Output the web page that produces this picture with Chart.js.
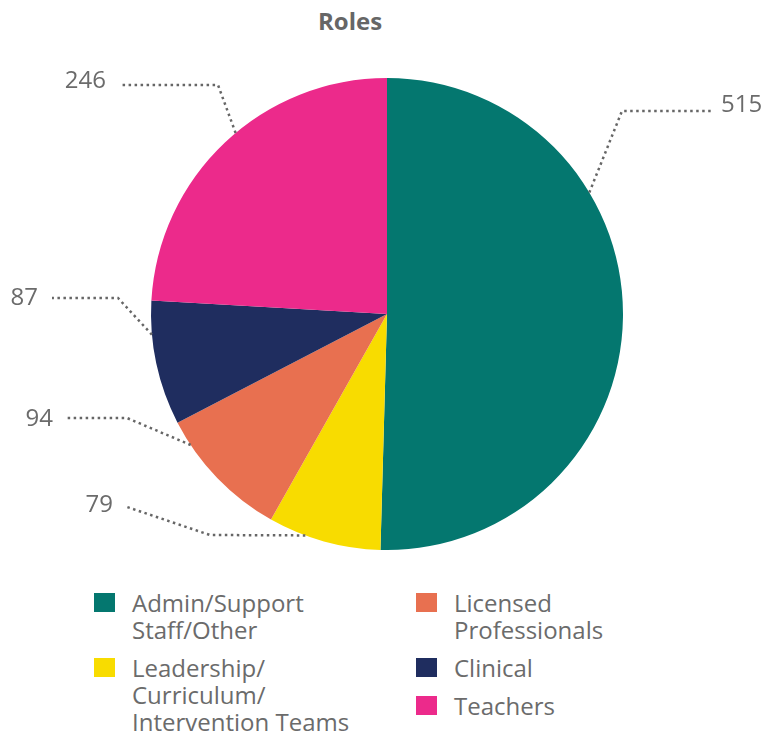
<!DOCTYPE html>
<html>
<head>
<meta charset="utf-8">
<script src="https://cdn.jsdelivr.net/npm/chart.js@4/dist/chart.umd.min.js"></script>
<style>
  body { margin: 0; background: #fff; font-family: 'Open Sans', sans-serif; color: #6b6b6b; }
  #wrap { position: relative; width: 762px; height: 740px; overflow: hidden; }
  #title { position: absolute; left: 0; top: 6px; width: 700px; text-align: center;
           font: bold 24px/30px 'Open Sans', sans-serif; color: #666; }
  #chartBox { position: absolute; left: 0; top: 0; width: 762px; height: 560px; }
  .col { position: absolute; top: 593px; display: flex; flex-direction: column; gap: 15px; }
  .item { display: flex; align-items: flex-start; }
  .box { width: 21px; height: 19px; flex: none; }
  .txt { margin-left: 17px; margin-top: -4px; font-size: 24px; line-height: 27px; white-space: pre-line; }
</style>
</head>
<body>
<div id="wrap">
  <div id="title">Roles</div>
  <div id="chartBox"><canvas id="rolesChart"></canvas></div>
  <div id="legend"></div>
</div>
<script>
const categories = ['Admin/Support\nStaff/Other', 'Leadership/\nCurriculum/\nIntervention Teams',
                    'Licensed\nProfessionals', 'Clinical', 'Teachers'];
const counts = [515, 79, 94, 87, 246];
const sliceColors = ['#04776F', '#F8DC00', '#E87050', '#1F2D5F', '#EC2A8B'];

// leader line layout per slice: where on the arc it starts, elbow and end offsets from centre
const leaderLayout = [
    { frac: 0.325, elbow: [235, -203], end: [327, -203], dy: -6 },
    { frac: 0.67, elbow: [-177, 221], end: [-260, 193], dy: -2 },
    { frac: 0.81, elbow: [-260, 104], end: [-320, 104], dy: 1 },
    { frac: 0.73, elbow: [-269, -16], end: [-335, -16], dy: 0 },
    { frac: 0.54, elbow: [-169, -229], end: [-267, -229], dy: -4 }
];

const leaderPlugin = {
    id: 'leaders',
    afterDatasetsDraw(chart, args, opts) {
        const ctx = chart.ctx;
        const meta = chart.getDatasetMeta(0);
        meta.data.forEach((arc, i) => {
            const lay = opts.layout[i];
            const p = arc.getProps(['x', 'y', 'startAngle', 'endAngle', 'outerRadius'], true);
            const a = p.startAngle + lay.frac * (p.endAngle - p.startAngle);
            const ax = p.x + p.outerRadius * Math.cos(a);
            const ay = p.y + p.outerRadius * Math.sin(a);
            const bx = p.x + lay.elbow[0], by = p.y + lay.elbow[1];
            const ex = p.x + lay.end[0], ey = p.y + lay.end[1];
            ctx.save();
            ctx.strokeStyle = '#666';
            ctx.lineWidth = 2.5;
            ctx.setLineDash([2.5, 3.5]);
            ctx.beginPath();
            ctx.moveTo(ax, ay);
            ctx.lineTo(bx, by);
            ctx.lineTo(ex, ey);
            ctx.stroke();
            ctx.setLineDash([]);
            ctx.font = '24px "Open Sans"';
            ctx.fillStyle = '#6b6b6b';
            ctx.textBaseline = 'middle';
            const onLeft = ex < bx;
            ctx.textAlign = onLeft ? 'right' : 'left';
            ctx.fillText(String(chart.data.datasets[0].data[i]), ex + (onLeft ? -14 : 7), ey + lay.dy);
            ctx.restore();
        });
    }
};

const chart = new Chart(document.getElementById('rolesChart'), {
    type: 'pie',
    data: {
        labels: categories,
        datasets: [{
            data: counts,
            backgroundColor: sliceColors,
            borderWidth: 0
        }]
    },
    options: {
        responsive: true,
        maintainAspectRatio: false,
        animation: false,
        layout: { padding: { top: 78, bottom: 10, left: 12, right: 0 } },
        plugins: {
            legend: { display: false },
            tooltip: { enabled: false },
            leaders: { layout: leaderLayout }
        }
    },
    plugins: [leaderPlugin]
});

// html legend, two columns
function buildLegend(chart) {
    const items = Chart.overrides.pie.plugins.legend.labels.generateLabels(chart);
    const cols = [items.slice(0, 2), items.slice(2)];
    const lefts = [94, 416];
    const legend = document.getElementById('legend');
    cols.forEach((col, c) => {
        const div = document.createElement('div');
        div.className = 'col';
        div.style.left = lefts[c] + 'px';
        col.forEach(it => {
            const row = document.createElement('div');
            row.className = 'item';
            const box = document.createElement('span');
            box.className = 'box';
            box.style.background = it.fillStyle;
            const txt = document.createElement('span');
            txt.className = 'txt';
            txt.textContent = it.text;
            row.appendChild(box);
            row.appendChild(txt);
            div.appendChild(row);
        });
        legend.appendChild(div);
    });
}
buildLegend(chart);
</script>
</body>
</html>
